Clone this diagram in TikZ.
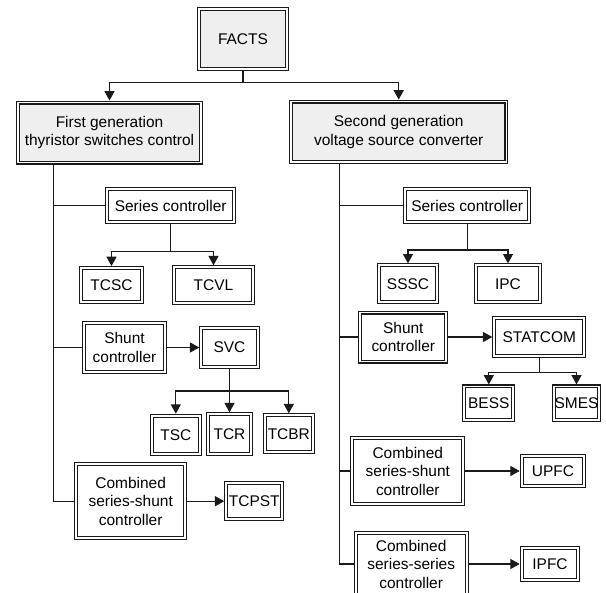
\documentclass[tikz,border=0pt]{standalone}
\usepackage{fontspec}
\setmainfont{Liberation Sans}
\usetikzlibrary{arrows.meta,calc}
\definecolor{boxgrey}{HTML}{EFEFEF}
\definecolor{ink}{HTML}{1A1A1A}
\tikzset{
  box/.style 2 args={draw=ink, double=white, double distance=1.4pt, line width=0.8pt,
    inner sep=0pt, outer sep=1.5pt, align=center, fill=white, text=black,
    font=\fontsize{11.6pt}{13.9pt}\selectfont,
    minimum width={(#1-4)*0.75pt}, minimum height={(#2-4)*0.75pt}},
  topbox/.style={fill=boxgrey},
  conn/.style={draw=ink, line width=0.85pt},
  arr/.style={conn, -{Triangle[length=7pt,width=7.5pt]}},
}
\begin{document}
\begin{tikzpicture}[x=0.75pt,y=-0.75pt]
\useasboundingbox (0,0) rectangle (606,592);
% top level
\node[box={92}{64},topbox] (facts) at (243,39) {FACTS};
\node[box={187}{64},topbox] (gen1) at (109.5,132.5) {First generation\\thyristor switches control};
\node[box={219.5}{64.5},topbox] (gen2) at (398.7,131.8) {Second generation\\voltage source converter};
% left branch
\node[box={131.3}{37}] (lser) at (170.7,205.8) {Series controller};
\node[box={65.6}{38.3}] (tcsc) at (111.5,285.2) {TCSC};
\node[box={83}{40}] (tcvl) at (213.5,285.3) {TCVL};
\node[box={84.4}{53.6}] (lshunt) at (124.5,347.5) {Shunt\\controller};
\node[box={60.4}{43.6}] (svc) at (229.5,347.5) {SVC};
\node[box={52.3}{42.6}] (tsc) at (175.8,435) {TSC};
\node[box={46.4}{44}] (tcr) at (229.5,434.3) {TCR};
\node[box={52.3}{41}] (tcbr) at (288.8,433.8) {TCBR};
\node[box={113.3}{77.7}] (lcomb) at (130.7,501.2) {Combined\\series-shunt\\controller};
\node[box={60}{40}] (tcpst) at (254.3,501.2) {TCPST};
% right branch
\node[box={128.3}{37}] (rser) at (467.2,205.8) {Series controller};
\node[box={62}{40.7}] (sssc) at (408,283.7) {SSSC};
\node[box={68}{40.7}] (ipc) at (508,283.7) {IPC};
\node[box={90}{53}] (rshunt) at (403.3,337) {Shunt\\controller};
\node[box={94}{42.6}] (statcom) at (539.3,337) {STATCOM};
\node[box={53}{37.5}] (bess) at (488.8,403.2) {BESS};
\node[box={48.4}{37.5}] (smes) at (576.5,403.2) {SMES};
\node[box={115}{69.3}] (rcomb1) at (407.8,471) {Combined\\series-shunt\\controller};
\node[box={66.6}{33.6}] (upfc) at (553,471) {UPFC};
\node[box={115}{66}] (rcomb2) at (411.2,564) {Combined\\series-series\\controller};
\node[box={60.6}{35.7}] (ipfc) at (550,564) {IPFC};
% helper coordinates
\coordinate (j0) at ($(facts.south)+(0,11.7)$);
\coordinate (tl) at (53.5,0);
\coordinate (tr) at (339.5,0);
\coordinate (lsj) at ($(lser.south)+(0,27.4)$);
\coordinate (svj) at ($(svc.south)+(0,21.7)$);
\coordinate (rsj) at ($(rser.south)+(0,25.7)$);
\coordinate (stj) at ($(statcom.south)+(0,14.4)$);
% connectors top
\draw[conn] (facts.south) -- (j0);
\draw[arr] (j0) -| (gen1.north);
\draw[arr] (j0) -| (gen2.north);
% left trunk
\draw[conn] (gen1.south -| tl) -- (lcomb.west -| tl) -- (lcomb.west);
\draw[conn] (lser.west -| tl) -- (lser.west);
\draw[conn] (lshunt.west -| tl) -- (lshunt.west);
\draw[conn] (lser.south) -- (lsj);
\draw[arr] (lsj) -| (tcsc.north);
\draw[arr] (lsj) -| (tcvl.north);
\draw[arr] (lshunt.east) -- (svc.west);
\draw[conn] (svc.south) -- (svj);
\draw[arr] (svj) -| (tsc.north);
\draw[arr] (svj) -- (tcr.north);
\draw[arr] (svj) -| (tcbr.north);
\draw[arr] (lcomb.east) -- (tcpst.west);
% right trunk
\draw[conn] (gen2.south -| tr) -- (rcomb2.west -| tr) -- (rcomb2.west);
\draw[conn] (rser.west -| tr) -- (rser.west);
\draw[conn] (rshunt.west -| tr) -- (rshunt.west);
\draw[conn] (rcomb1.west -| tr) -- (rcomb1.west);
\draw[conn] (rser.south) -- (rsj);
\draw[arr] (rsj) -| (sssc.north);
\draw[arr] (rsj) -| (ipc.north);
\draw[arr] (rshunt.east) -- (statcom.west);
\draw[conn] (statcom.south) -- (stj);
\draw[arr] (stj) -| (bess.north);
\draw[arr] (stj) -| (smes.north);
\draw[arr] (rcomb1.east) -- (upfc.west);
\draw[arr] (rcomb2.east) -- (ipfc.west);
\end{tikzpicture}
\end{document}
